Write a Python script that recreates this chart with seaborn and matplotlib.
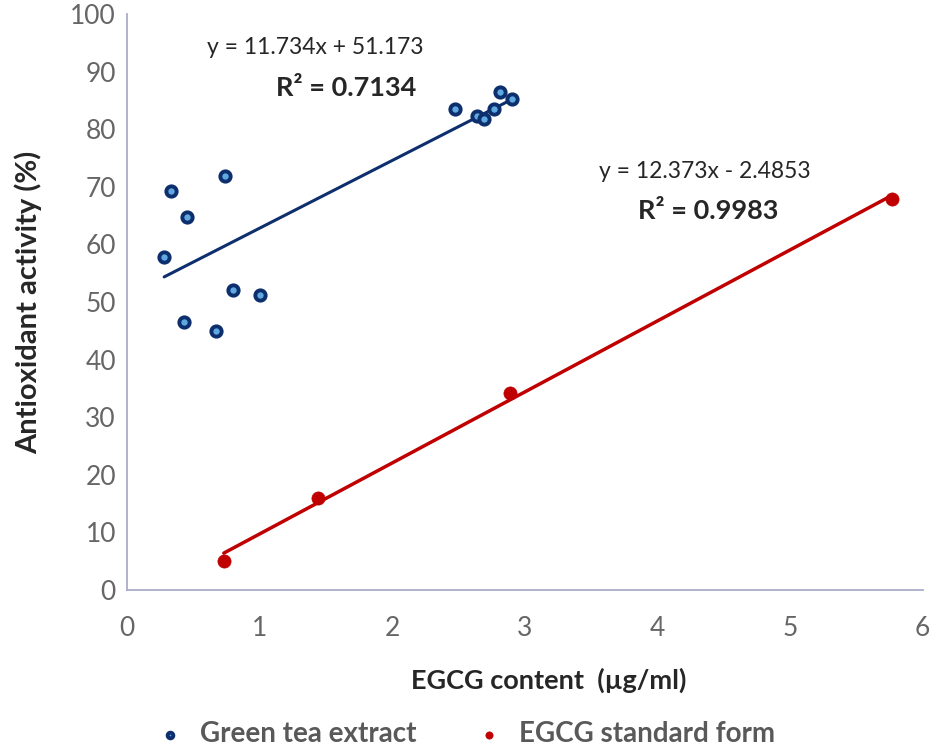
import matplotlib
matplotlib.use("Agg")
import matplotlib.pyplot as plt
import seaborn as sns
import pandas as pd

# green tea extract samples
tea_x = [0.28, 0.33, 0.45, 0.43, 0.67, 0.74, 0.80, 1.00, 2.47, 2.64, 2.69, 2.77, 2.81, 2.90]
tea_y = [57.8, 69.3, 64.8, 46.5, 45.0, 71.9, 52.1, 51.2, 83.5, 82.3, 81.8, 83.5, 86.5, 85.2]
# EGCG standard
std_x = [0.73, 1.44, 2.89, 5.77]
std_y = [5.0, 16.0, 34.2, 67.9]

labels = ["Green tea extract", "EGCG standard form"]
eq_text = ["y = 11.734x + 51.173", "y = 12.373x - 2.4853"]
r2_text = ["R² = 0.7134", "R² = 0.9983"]
xticks = [0, 1, 2, 3, 4, 5, 6]
yticks = [0, 10, 20, 30, 40, 50, 60, 70, 80, 90, 100]

navy = "#0d2f6e"
red = "#c00000"

sns.set_style("white")
plt.rcParams["font.family"] = ["Lato", "DejaVu Sans"]

tea = pd.DataFrame({"x": tea_x, "y": tea_y})
std = pd.DataFrame({"x": std_x, "y": std_y})

fig = plt.figure(figsize=(9.36, 7.51), dpi=100)
ax = fig.add_axes([0.1357, 0.2144, 0.85, 0.767])

# trendlines
sns.regplot(data=tea, x="x", y="y", ax=ax, scatter=False, ci=None, truncate=True,
            line_kws=dict(color=navy, lw=2.2))
sns.regplot(data=std, x="x", y="y", ax=ax, scatter=False, ci=None, truncate=True,
            line_kws=dict(color=red, lw=2.5))

sns.scatterplot(data=tea, x="x", y="y", ax=ax, s=55, color="#5fa8e0",
                edgecolor=navy, linewidth=2.8, label=labels[0], zorder=5)
sns.scatterplot(data=std, x="x", y="y", ax=ax, s=90, color=red,
                edgecolor=red, linewidth=0.5, label=labels[1], zorder=5)

ax.set_xlim(0, 6)
ax.set_ylim(0, 100)
ax.set_xticks(xticks)
ax.set_yticks(yticks)
ax.tick_params(axis="both", length=0, labelsize=19, labelcolor="#666666")
ax.tick_params(axis="x", pad=19)
ax.tick_params(axis="y", pad=8)
for s in ["top", "right"]:
    ax.spines[s].set_visible(False)
for s in ["left", "bottom"]:
    ax.spines[s].set_color("#a9adc6")
    ax.spines[s].set_linewidth(1.3)

ax.set_xlabel("EGCG content  (µg/ml)", fontsize=19.5, fontweight="bold", labelpad=12)
ax.xaxis.set_label_coords(0.53, -0.135)
ax.set_ylabel("Antioxidant activity (%)", fontsize=21, fontweight="bold", labelpad=20)

ax.text(1.42, 94.1, eq_text[0], ha="center", va="center", fontsize=16.5)
ax.text(1.65, 87.2, r2_text[0], ha="center", va="center", fontsize=19.5, fontweight="bold")
ax.text(4.36, 72.6, eq_text[1], ha="center", va="center", fontsize=16.5)
ax.text(4.38, 65.8, r2_text[1], ha="center", va="center", fontsize=19.5, fontweight="bold")

handles, lbls = ax.get_legend_handles_labels()
ax.legend_.remove()
leg = fig.legend(handles, lbls, loc="center", bbox_to_anchor=(0.49, 0.022), ncol=2,
                 frameon=False, fontsize=20, markerscale=0.55, handletextpad=0.1,
                 columnspacing=1.6)
for t in leg.get_texts():
    t.set_color("#595959")
    t.set_fontweight("bold")

fig.savefig("out.png", dpi=100)
